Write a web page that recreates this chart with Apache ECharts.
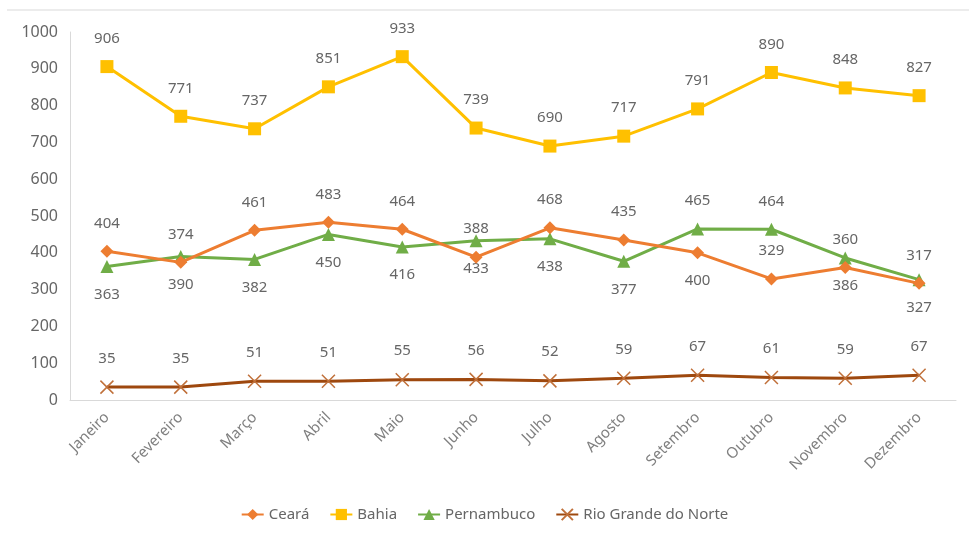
<!DOCTYPE html>
<html>
<head>
<meta charset="utf-8">
<script src="https://cdn.jsdelivr.net/npm/echarts@6/dist/echarts.min.js"></script>
<style>
html,body{margin:0;padding:0;background:#fff;}
#chart{width:969px;height:541px;}
</style>
</head>
<body>
<div id="chart"></div>
<script>
const months = ['Janeiro','Fevereiro','Março','Abril','Maio','Junho','Julho','Agosto','Setembro','Outubro','Novembro','Dezembro'];
const ceara = [404,374,461,483,464,388,468,435,400,329,360,317];
const bahia = [906,771,737,851,933,739,690,717,791,890,848,827];
const pernambuco = [363,390,382,450,416,433,438,377,465,464,386,327];
const rioGrandeDoNorte = [35,35,51,51,55,56,52,59,67,61,59,67];
const seriesNames = ['Ceará','Bahia','Pernambuco','Rio Grande do Norte'];
const yMin = 0, yMax = 1000, yStep = 100;
// months whose labels sit on the other side of the point
const cearaLabelBelow = [8];
const pernambucoLabelAbove = [8, 9];

const FONT = 'Noto Sans';
const TXT = '#666666';
const labelStyle = {show:true, fontFamily:FONT, fontSize:15, color:TXT, distance:14};

function withPos(arr, defPos, flipIdx, flipPos){
  return arr.map((v,i)=>({value:v, label:{position: flipIdx.includes(i)?flipPos:defPos}}));
}

const chart = echarts.init(document.getElementById('chart'), null, {renderer:'canvas'});
chart.setOption({
  animation:false,
  backgroundColor:'#ffffff',
  grid:{left:70, right:13, top:32, bottom:141, containLabel:false},
  legend:{
    bottom:14, left:'center',
    itemWidth:22, itemHeight:14, itemGap:20,
    textStyle:{fontFamily:FONT, fontSize:15, color:TXT},
    data:seriesNames
  },
  xAxis:{
    type:'category', data:months, boundaryGap:true,
    axisLine:{show:true, lineStyle:{color:'#d9d9d9', width:1}},
    axisTick:{show:false},
    axisLabel:{rotate:45, fontFamily:FONT, fontSize:15, color:'#808080', margin:15, interval:0}
  },
  yAxis:{
    type:'value', min:yMin, max:yMax, interval:yStep,
    axisLine:{show:true, lineStyle:{color:'#d9d9d9', width:1}},
    axisTick:{show:false},
    splitLine:{show:false},
    axisLabel:{fontFamily:FONT, fontSize:16, color:TXT, margin:12, formatter:(v)=>String(v)}
  },
  graphic:[{type:'line', shape:{x1:7,y1:10,x2:969,y2:10}, style:{stroke:'#e6e6e6', lineWidth:1.5}, silent:true}],
  series:[
    {
      name:seriesNames[0], type:'line', data:withPos(ceara,'top',cearaLabelBelow,'bottom'),
      symbol:'diamond', symbolSize:13, z:3,
      lineStyle:{color:'#ED7D31', width:3},
      itemStyle:{color:'#ED7D31', borderWidth:0},
      label:labelStyle
    },
    {
      name:seriesNames[1], type:'line', data:bahia,
      symbol:'rect', symbolSize:13, z:3,
      lineStyle:{color:'#FFC000', width:3},
      itemStyle:{color:'#FFC000', borderWidth:0},
      label:Object.assign({}, labelStyle, {position:'top'})
    },
    {
      name:seriesNames[2], type:'line', data:withPos(pernambuco,'bottom',pernambucoLabelAbove,'top'),
      symbol:'triangle', symbolSize:13, z:2,
      lineStyle:{color:'#70AD47', width:3},
      itemStyle:{color:'#70AD47', borderWidth:0},
      label:labelStyle
    },
    {
      name:seriesNames[3], type:'line', data:rioGrandeDoNorte,
      symbol:'path://M0,0L10,10M10,0L0,10', symbolSize:13, z:3,
      lineStyle:{color:'#9E480E', width:3},
      itemStyle:{color:'#C0703A', borderColor:'#C0703A', borderWidth:1.5},
      label:Object.assign({}, labelStyle, {position:'top'})
    }
  ]
});
</script>
</body>
</html>
